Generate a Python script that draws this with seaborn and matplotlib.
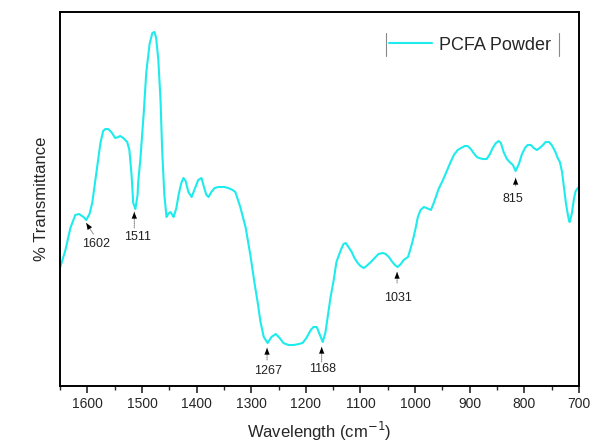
import matplotlib
matplotlib.use("Agg")
import matplotlib.pyplot as plt
import seaborn as sns
import pandas as pd
from matplotlib.lines import Line2D

# ---- data (wavenumber in cm^-1, transmittance in arbitrary units) ----
wavenumber = [1650, 1640, 1631, 1622, 1615, 1607, 1602, 1596, 1591, 1584,
              1576, 1571, 1567, 1562, 1556, 1549, 1543, 1540, 1534, 1527,
              1523, 1519, 1516, 1512, 1508, 1507, 1503, 1497, 1492, 1486,
              1481, 1477, 1474, 1470, 1466, 1463, 1459, 1455, 1452, 1448,
              1444, 1442, 1437, 1433, 1428, 1424, 1420, 1415, 1409, 1404,
              1397, 1391, 1386, 1382, 1378, 1373, 1367, 1360, 1349, 1342,
              1334, 1329, 1320, 1310, 1301, 1294, 1288, 1283, 1277, 1270,
              1263, 1255, 1248, 1241, 1232, 1222, 1213, 1206, 1199, 1191,
              1186, 1180, 1175, 1169, 1164, 1160, 1155, 1149, 1144, 1136,
              1131, 1127, 1122, 1116, 1111, 1105, 1100, 1094, 1089, 1081,
              1074, 1067, 1059, 1054, 1048, 1043, 1037, 1032, 1026, 1021,
              1013, 1008, 1004, 999, 995, 990, 984, 979, 971, 966,
              962, 957, 949, 942, 935, 929, 922, 916, 909, 904,
              898, 893, 887, 883, 876, 869, 863, 858, 852, 847,
              843, 838, 832, 827, 821, 816, 810, 805, 799, 794,
              788, 783, 777, 772, 766, 761, 755, 750, 744, 739,
              735, 731, 728, 724, 720, 718, 717, 713, 709, 706,
              702, 700]
transmittance = [118, 136, 158, 171, 172, 169, 166, 172, 183, 211,
                 243, 255, 257, 257, 254, 248, 249, 250, 248, 244,
                 236, 211, 183, 177, 191, 203, 226, 271, 314, 342,
                 353, 354, 348, 326, 286, 236, 191, 169, 172, 174,
                 171, 169, 178, 191, 203, 208, 205, 194, 189, 196,
                 206, 208, 198, 191, 189, 194, 198, 199, 199, 198,
                 196, 194, 179, 158, 129, 103, 83, 64, 49, 43,
                 49, 52, 48, 43, 41, 41, 42, 43, 48, 56,
                 59, 59, 52, 44, 54, 69, 88, 106, 124, 136,
                 142, 143, 139, 134, 128, 123, 120, 118, 120, 124,
                 128, 132, 133, 132, 129, 125, 121, 119, 122, 126,
                 129, 138, 146, 158, 169, 176, 179, 178, 176, 183,
                 189, 197, 206, 215, 224, 231, 236, 238, 240, 240,
                 237, 233, 229, 228, 227, 227, 232, 238, 243, 245,
                 243, 234, 227, 224, 221, 215, 222, 231, 238, 241,
                 241, 238, 236, 238, 241, 244, 244, 241, 235, 228,
                 224, 214, 201, 183, 170, 165, 164, 173, 188, 195,
                 198, 198]

peak_labels = ["1602", "1511", "1267", "1168", "1031", "815"]
arrow_head_wn = [1602, 1514, 1271, 1171, 1033, 816]
arrow_tail_wn = [1589, 1514, 1271, 1171, 1033, 816]
arrow_head_t = [163, 174, 38, 39, 114, 208]
arrow_tail_t = [152, 158, 26, 24, 103, 200]
label_wn = [1584, 1508, 1270, 1169, 1032, 821]
label_t = [142, 149, 15, 17, 88, 187]

series_name = "PCFA Powder"

df = pd.DataFrame({"Wavenumber": wavenumber, "T": transmittance, "Sample": series_name})

sns.set_style("white")
plt.rcParams["font.family"] = ["Liberation Sans", "DejaVu Sans"]

fig = plt.figure(figsize=(5.95, 4.44), dpi=100)
ax = fig.add_axes([60 / 595, 1 - 386 / 444, 519 / 595, 374 / 444])

sns.lineplot(data=df, x="Wavenumber", y="T", hue="Sample", palette=["#1EEBEB"],
             linewidth=1.5, ax=ax, sort=False, estimator=None)

ax.set_xlim(1650, 700)
ax.set_ylim(0, 374)
ax.set_xticks([1600, 1500, 1400, 1300, 1200, 1100, 1000, 900, 800, 700])
ax.set_xticks([1650, 1550, 1450, 1350, 1250, 1150, 1050, 950, 850, 750], minor=True)
ax.set_yticks([])
ax.tick_params(axis="x", which="major", direction="out", length=5, width=1.2,
               labelsize=10, bottom=True, pad=3)
ax.tick_params(axis="x", which="minor", direction="out", length=3, width=1.0, bottom=True)
for s in ax.spines.values():
    s.set_linewidth(1.4)
    s.set_color("black")

ax.set_xlabel("Wavelength (cm$^{-1}$)", fontsize=12, labelpad=6)
ax.set_ylabel("% Transmittance", fontsize=12, labelpad=8)

for lab, hx, tx, hy, ty, lx, ly in zip(peak_labels, arrow_head_wn, arrow_tail_wn,
                                       arrow_head_t, arrow_tail_t, label_wn, label_t):
    # dotted shaft
    ax.annotate("", xy=(hx, hy), xytext=(tx, ty),
                arrowprops=dict(arrowstyle="-", color="#808080", lw=0.7,
                                linestyle=(0, (1, 1)), shrinkA=0, shrinkB=0))
    # solid black head
    ax.annotate("", xy=(hx, hy), xytext=(tx, ty),
                arrowprops=dict(arrowstyle="-|>,head_length=0.4,head_width=0.16",
                                color="black", lw=0.0, shrinkA=0, shrinkB=0,
                                mutation_scale=12))
    ax.text(lx, ly, lab, fontsize=9, ha="center", va="center", color="#222222")

leg = ax.legend(loc="center left", bbox_to_anchor=((389 - 60) / 519, 1 - (45 - 12) / 374),
                frameon=False, fontsize=13, handlelength=2.4, handletextpad=0.35,
                borderpad=0, borderaxespad=0)

for xp in (386, 559):
    fig.add_artist(Line2D([xp / 595, xp / 595], [1 - 33 / 444, 1 - 56 / 444],
                          color="#888888", lw=0.8))

fig.savefig("out.png", dpi=100)
